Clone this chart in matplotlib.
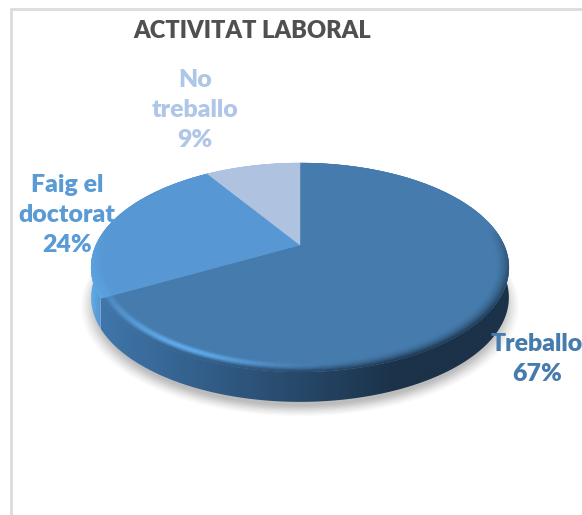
"""Activitat laboral: tilted 3D-style pie with a bevelled rim."""

from __future__ import annotations

import matplotlib
matplotlib.use("Agg")
import matplotlib.pyplot as plt
import numpy as np
from matplotlib.collections import PolyCollection
from matplotlib.colors import to_rgb
from matplotlib.patches import PathPatch, Polygon
from matplotlib.path import Path

categories = ["Treballo", "Faig el doctorat", "No treballo"]
label_lines = ["Treballo", "Faig el\ndoctorat", "No\ntreballo"]
percent = [67, 24, 9]
title = "ACTIVITAT LABORAL"

face_colors = ["#467cad", "#5797d3", "#afc3e0"]
label_colors = ["#467cad", "#5b9bd5", "#afc6e6"]
wall_colors = [("#3f76ab", "#1b3249"), ("#62ace9", "#4f8fc9"), ("#afc3e0", "#afc3e0")]
label_xy = [(537, 359), (67, 215), (195, 110)]

CX, CY = 300.0, 245.0
RX, RY, TILT = 204.0, 99.6, 0.215
DEPTH = 30.0
BEVEL = 0.065

plt.rcParams["font.family"] = ["Lato", "DejaVu Sans"]


def project(angle_deg, radius=1.0, drop=0.0):
    """Clockwise angle from 12 o'clock on the disc to pixel coordinates."""
    angle = np.radians(angle_deg)
    u = radius * np.sin(angle)
    v = radius * np.cos(angle)
    w = 1 + TILT * v
    return CX + RX * u / w, CY - RY * v / w + drop


def mix(a, b, t):
    return tuple((1 - t) * x + t * y for x, y in zip(to_rgb(a), to_rgb(b)))


def rim_color(base, edge, angle, t):
    """Bevel shade: highlight on the lower left, falling into the wall colour."""
    u, v = np.sin(np.radians(angle)), np.cos(np.radians(angle))
    front = float(np.clip(0.15 - v, 0, 1) ** 0.5)
    glow = float(np.exp(-((u + 0.5) / 0.4) ** 2) * np.sin(np.pi * min(t * 1.15, 1)) ** 2)
    side = float(np.clip((u + 0.9) / 1.3, 0, 1))
    dark = mix(edge, "#1b3249", side) if base == face_colors[0] else to_rgb(edge)
    shade = mix(base, dark, float(t**2))
    return mix(base, mix(shade, "#62aef0", glow), front)


fig = plt.figure(figsize=(5.82, 5.15), dpi=100)
ax = fig.add_axes([0, 0, 1, 1])
ax.set_xlim(0, 582)
ax.set_ylim(515, 0)
ax.axis("off")

# chart frame
ax.plot([11, 11, 582], [515, 9, 9], color="#dcdcdc", lw=2.0, solid_joinstyle="miter")

# soft shadow
full = np.linspace(0, 360, 361)
for grow, alpha in zip(np.linspace(1.045, 0.98, 9), [0.04, 0.05, 0.06, 0.07, 0.09, 0.1, 0.12, 0.12, 0.12]):
    x, y = project(full, grow, DEPTH + 7)
    ax.add_patch(Polygon(np.c_[x, y], closed=True, fc="#8c8c8c", ec="none", alpha=alpha, zorder=1))

edges = np.cumsum([0] + percent) * 3.6
gradient = np.linspace(0, 1, 256)

# side wall, only the part facing the viewer
left_end, right_end = 282.0, 78.0
for i in range(len(percent)):
    start, stop = max(edges[i], right_end), min(edges[i + 1], left_end)
    if stop <= start:
        continue
    angles = np.linspace(start, stop, 120)
    x0, y0 = project(angles)
    x1, y1 = project(angles, drop=DEPTH)
    wall = Polygon(np.c_[np.r_[x0, x1[::-1]], np.r_[y0, y1[::-1]]], closed=True, fc="none", ec="none")
    ax.add_patch(wall)
    rgb = np.array([mix(*wall_colors[i], t) for t in np.clip(gradient / 0.72, 0, 1)])[None, :, :]
    image = ax.imshow(rgb, extent=(x0.min(), x0.max(), y1.max(), y0.min()), aspect="auto",
                      interpolation="bilinear", zorder=2)
    image.set_clip_path(wall)
ax.set_xlim(0, 582)
ax.set_ylim(515, 0)

# top face wedges
for i, color in enumerate(face_colors):
    x, y = project(np.linspace(edges[i], edges[i + 1], 200))
    verts = np.r_[[[CX, CY]], np.c_[x, y], [[CX, CY]]]
    codes = [Path.MOVETO] + [Path.LINETO] * (len(verts) - 2) + [Path.CLOSEPOLY]
    ax.add_patch(PathPatch(Path(verts, codes), fc=color, ec=color, lw=0.3, zorder=3))

# bevel as small shaded quads around the rim
radii = np.linspace(1 - BEVEL, 1.0, 13)
quads, shades = [], []
for i, base in enumerate(face_colors):
    angles = np.arange(edges[i], edges[i + 1] + 1.5, 1.5)
    angles[-1] = edges[i + 1]
    for a0, a1 in zip(angles[:-1], angles[1:]):
        for j, (r0, r1) in enumerate(zip(radii[:-1], radii[1:])):
            xa, ya = project(a0, r0)
            xb, yb = project(a1, r0)
            xc, yc = project(a1, r1)
            xd, yd = project(a0, r1)
            quads.append([(xa, ya), (xb, yb), (xc, yc), (xd, yd)])
            shades.append(rim_color(base, wall_colors[i][0], 0.5 * (a0 + a1), (j + 0.5) / (len(radii) - 1)))
ax.add_collection(PolyCollection(quads, facecolors=shades, edgecolors=shades, linewidths=0.3, zorder=4))

# labels
ax.text(252, 31, title, ha="center", va="center", fontsize=17.0, fontweight="heavy", color="#505050", zorder=6)
for text, value, (lx, ly), color in zip(label_lines, percent, label_xy, label_colors):
    ax.text(lx, ly, f"{text}\n{value}%", ha="center", va="center", fontsize=17.9, fontweight="heavy",
            color=color, linespacing=1.45, zorder=6)

fig.savefig("out.png", dpi=100, facecolor="white")
